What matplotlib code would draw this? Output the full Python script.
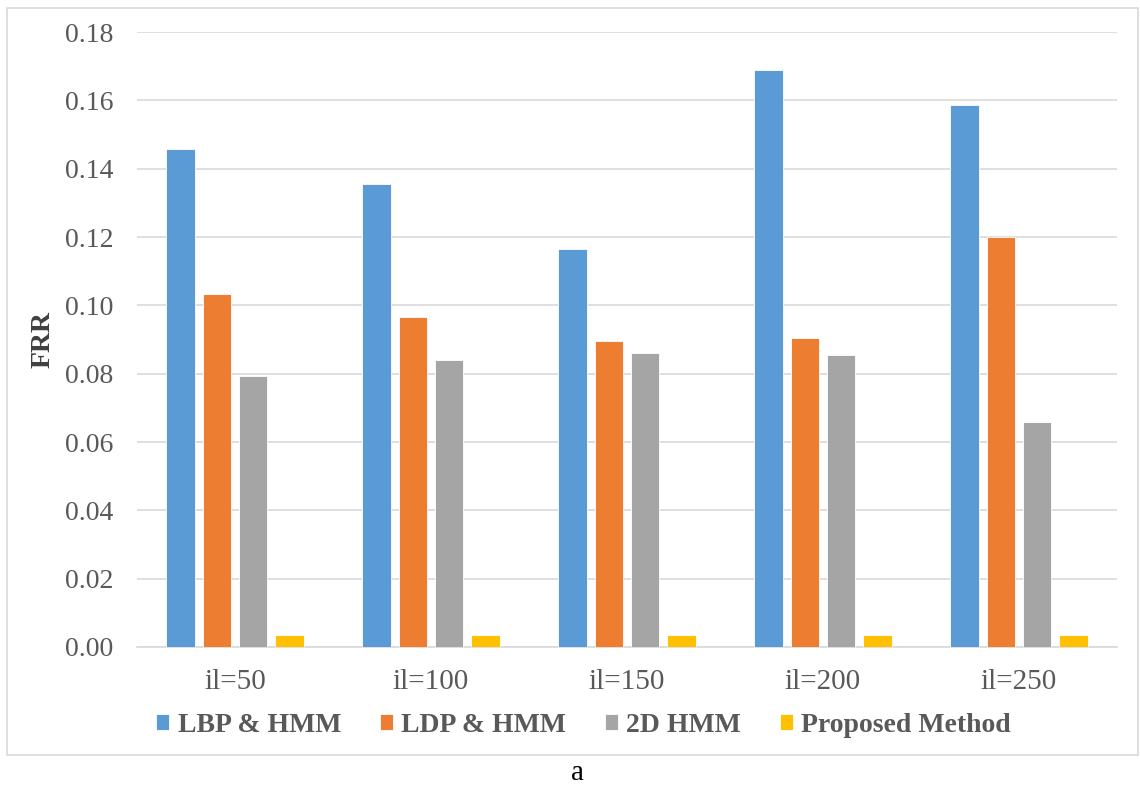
import numpy as np
import matplotlib.pyplot as plt
from matplotlib.patches import Rectangle

plt.rcParams['font.family'] = ['Liberation Serif', 'DejaVu Serif']

categories = ['il=50', 'il=100', 'il=150', 'il=200', 'il=250']
series_names = ['LBP & HMM', 'LDP & HMM', '2D HMM', 'Proposed Method']
lbp_hmm = [0.1458, 0.1355, 0.1165, 0.1689, 0.1587]
ldp_hmm = [0.1033, 0.0967, 0.0896, 0.0903, 0.1201]
hmm_2d = [0.0794, 0.0841, 0.0860, 0.0855, 0.0659]
proposed = [0.0035, 0.0035, 0.0035, 0.0035, 0.0035]
colors = ['#5b9bd5', '#ed7d31', '#a5a5a5', '#ffc000']

fig = plt.figure(figsize=(11.4, 7.85), dpi=100)
ax = fig.add_axes([0.1202, 0.1758, 0.8596, 0.7834])

x = np.arange(len(categories))
width = 0.145
stride = 0.185
all_series = [lbp_hmm, ldp_hmm, hmm_2d, proposed]
for i, (vals, name, c) in enumerate(zip(all_series, series_names, colors)):
    offset = (i - 1.5) * stride
    ax.bar(x + offset, vals, width, color=c, label=name,
           edgecolor='white', linewidth=0.6, zorder=3)

ax.set_xlim(-0.5, len(categories) - 0.5)
ax.set_ylim(0, 0.18)
yt = np.arange(0, 0.181, 0.02)
ax.set_yticks(yt)
ax.set_yticklabels([f'{v:.2f}' for v in yt])
ax.set_xticks(x)
ax.set_xticklabels(categories)
ax.yaxis.grid(True, color='#d9d9d9', linewidth=1.2, zorder=0)
ax.set_axisbelow(True)
for s in ['top', 'right', 'left']:
    ax.spines[s].set_visible(False)
ax.spines['bottom'].set_color('#d9d9d9')
ax.spines['bottom'].set_linewidth(1.2)
ax.tick_params(axis='both', length=0, colors='#595959')
ax.tick_params(axis='y', pad=17, labelsize=20)
ax.tick_params(axis='x', pad=16, labelsize=21)

ax.set_ylabel('FRR', fontsize=20, fontweight='bold', color='#404040', labelpad=7)

fig.legend(loc='center', bbox_to_anchor=(0.512, 0.076), ncol=4, frameon=False,
           prop={'size': 20, 'weight': 'bold'}, labelcolor='#595959',
           handlelength=0.47, handleheight=0.47, handletextpad=0.3,
           columnspacing=1.4)

# outer chart frame
fig.patches.append(Rectangle((7 / 1140, 1 - 755 / 785), 1131 / 1140, 747 / 785,
                             transform=fig.transFigure, fill=False,
                             edgecolor='#d9d9d9', linewidth=1.2))

fig.text(577 / 1140, 1 - 773 / 785, 'a', fontsize=21, color='black',
         ha='center', va='center')

fig.savefig('out.png', dpi=100)
